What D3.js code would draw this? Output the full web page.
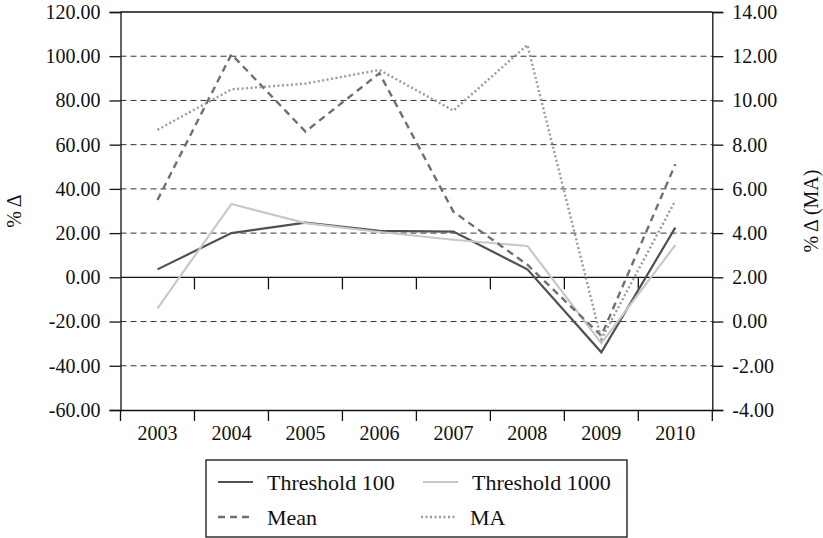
<!DOCTYPE html>
<html><head><meta charset="utf-8">
<script src="https://cdn.jsdelivr.net/npm/d3@7"></script>
<style>body{margin:0;background:#fff}svg{display:block}text{font-family:"Liberation Serif","Times New Roman",serif;fill:#111}</style>
</head><body><svg id="c" width="823" height="538"></svg>
<script>
const years = ["2003","2004","2005","2006","2007","2008","2009","2010"];
const threshold100 = [3.6, 20.0, 24.7, 21.0, 20.7, 3.6, -33.9, 22.5];
const threshold1000 = [-14.0, 33.2, 24.5, 20.5, 17.0, 14.2, -29.8, 14.6];
const meanVals = [35.0, 100.9, 65.9, 92.3, 29.7, 5.7, -26.4, 51.1];
const maVals = [8.67, 10.5, 10.76, 11.38, 9.54, 12.51, -0.8, 5.47];
const leftTicks = [-60, -40, -20, 0, 20, 40, 60, 80, 100, 120];
const rightTicks = [-4, -2, 0, 2, 4, 6, 8, 10, 12, 14];
const legendLabels = ["Threshold 100", "Threshold 1000", "Mean", "MA"];

const svg = d3.select("#c");
const L = 120.5, R = 712.3, T = 12, B = 410;
const x = d3.scaleBand().domain(years).range([L, R]).padding(0);
const yL = d3.scaleLinear().domain([-60, 120]).range([B, T]);
const yR = d3.scaleLinear().domain([-4, 14]).range([B, T]);
const fmt = d3.formatLocale({decimal: ".", thousands: ",", grouping: [3], currency: ["", ""], minus: "-"}).format(".2f");

// gridlines
svg.append("g").selectAll("line").data(leftTicks.filter(v => v !== 0 && v !== 120 && v !== -60))
  .join("line").attr("x1", L).attr("x2", R).attr("y1", d => yL(d)).attr("y2", d => yL(d))
  .attr("stroke", "#333").attr("stroke-width", 1).attr("stroke-dasharray", "6,4");

// frame
svg.append("line").attr("x1", L).attr("x2", R).attr("y1", T).attr("y2", T).attr("stroke", "#111").attr("stroke-width", 1.3);

// left axis
const gl = svg.append("g").attr("transform", `translate(${L},0)`)
  .call(d3.axisLeft(yL).tickValues(leftTicks).tickFormat(fmt).tickSize(11).tickPadding(9));
// right axis
const gr = svg.append("g").attr("transform", `translate(${R},0)`)
  .call(d3.axisRight(yR).tickValues(rightTicks).tickFormat(fmt).tickSize(11).tickPadding(9));
// bottom axis
const boundaries = years.map(d => x(d)).concat([R]);
const gb = svg.append("g").attr("transform", `translate(0,${B})`)
  .call(d3.axisBottom(x).tickSize(0).tickPadding(16));
gb.selectAll("line.bt").data(boundaries).join("line").attr("class","bt")
  .attr("x1", d => d).attr("x2", d => d).attr("y1", 0).attr("y2", 11).attr("stroke", "#111").attr("stroke-width", 1.3);
// zero axis
const g0 = svg.append("g");
g0.append("line").attr("x1", L).attr("x2", R).attr("y1", yL(0)).attr("y2", yL(0)).attr("stroke", "#111").attr("stroke-width", 1.3);
g0.selectAll("line.zt").data(boundaries.slice(1, -1)).join("line").attr("class","zt")
  .attr("x1", d => d).attr("x2", d => d).attr("y1", yL(0)).attr("y2", yL(0) + 12).attr("stroke", "#111").attr("stroke-width", 1.3);

[gl, gr, gb].forEach(g => {
  g.select(".domain").attr("stroke", "#111").attr("stroke-width", 1.3);
  g.selectAll(".tick line").attr("stroke", "#111").attr("stroke-width", 1.3);
  g.selectAll(".tick text").attr("font-size", 20).attr("font-family", "Liberation Serif").attr("fill", "#111");
});

// axis titles
svg.append("text").attr("transform", `translate(21,${(T + B) / 2}) rotate(-90)`).attr("text-anchor", "middle")
  .attr("font-size", 20).text("% Δ");
svg.append("text").attr("transform", `translate(818,${(T + B) / 2}) rotate(-90)`).attr("text-anchor", "middle")
  .attr("font-size", 20).text("% Δ (MA)");

const cx = d => x(d) + x.bandwidth() / 2;
const series = [
  {vals: threshold100, y: yL, color: "#505050", dash: null, w: 2.2},
  {vals: threshold1000, y: yL, color: "#c8c8c8", dash: null, w: 2.2},
  {vals: meanVals, y: yL, color: "#707070", dash: "7,5", w: 2.4},
  {vals: maVals, y: yR, color: "#9a9a9a", dash: "2,2.5", w: 2.4}
];
series.forEach(s => {
  const line = d3.line().x((d, i) => cx(years[i])).y(d => s.y(d));
  svg.append("path").datum(s.vals).attr("d", line).attr("fill", "none")
    .attr("stroke", s.color).attr("stroke-width", s.w).attr("stroke-dasharray", s.dash);
});

// legend
const lg = svg.append("g");
lg.append("rect").attr("x", 206).attr("y", 460).attr("width", 421).attr("height", 77)
  .attr("fill", "#fff").attr("stroke", "#111").attr("stroke-width", 1.3);
const pos = [[218, 482], [423, 482], [218, 517], [421, 517]];
series.forEach((s, i) => {
  const [px, py] = pos[i];
  lg.append("line").attr("x1", px).attr("x2", px + 35).attr("y1", py).attr("y2", py)
    .attr("stroke", s.color).attr("stroke-width", s.w).attr("stroke-dasharray", s.dash);
  lg.append("text").attr("x", px + 49).attr("y", py).attr("dy", "0.35em").attr("font-size", 22).text(legendLabels[i]);
});
</script></body></html>
